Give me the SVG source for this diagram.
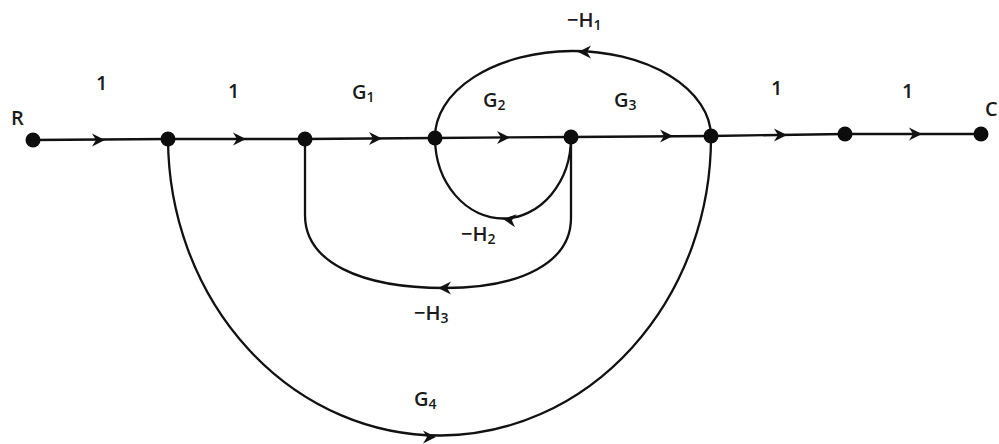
<svg xmlns="http://www.w3.org/2000/svg" xmlns:xlink="http://www.w3.org/1999/xlink" width="999" height="444" viewBox="0 0 999 444">
<style>
.e{fill:none;stroke:#111;stroke-width:2.3;stroke-linecap:round}
.n{fill:#0d0d0d}
.t{font-family:"Open Sans","DejaVu Sans",sans-serif;font-weight:600;font-size:20px;fill:#1a1a1a}
.s{font-size:14px}
</style>
<defs>
<path id="ah" d="M0,0 L-13,-6.5 L-9,0 L-13,6.5 Z" fill="#111"/>
</defs>
<rect width="999" height="444" fill="#fff"/>
<g id="connectors">
<line class="e" x1="33" y1="140" x2="168" y2="139"/>
<line class="e" x1="168" y1="139" x2="305" y2="139"/>
<line class="e" x1="305" y1="139" x2="435" y2="138"/>
<line class="e" x1="435" y1="138" x2="571" y2="137"/>
<line class="e" x1="571" y1="137" x2="711" y2="136"/>
<line class="e" x1="711" y1="136" x2="845" y2="134"/>
<line class="e" x1="845" y1="134" x2="981" y2="134"/>
<path class="e" d="M711,136 A138,86 0 0 0 435,138"/>
<path class="e" d="M571,137 A68,81 0 0 1 435,138"/>
<path class="e" d="M571,137 L571,218 C571,262 522,288 445,288 C360,288 305,262 305,215 L305,139"/>
<path class="e" d="M168,139 A271.5,298 0 0 0 711,136"/>
<use xlink:href="#ah" transform="translate(105,140)"/>
<use xlink:href="#ah" transform="translate(246,139)"/>
<use xlink:href="#ah" transform="translate(382,138.5)"/>
<use xlink:href="#ah" transform="translate(510,137.5)"/>
<use xlink:href="#ah" transform="translate(673,136)"/>
<use xlink:href="#ah" transform="translate(787,135)"/>
<use xlink:href="#ah" transform="translate(922,134)"/>
<use xlink:href="#ah" transform="translate(578,52) rotate(180)"/>
<use xlink:href="#ah" transform="translate(503,219) rotate(188)"/>
<use xlink:href="#ah" transform="translate(438,288) rotate(180)"/>
<use xlink:href="#ah" transform="translate(436,437)"/>
</g>
<g id="node-R"><circle class="n" cx="33" cy="140" r="7.5"/><text class="t" x="11" y="125">R</text></g>
<g id="node-1"><circle class="n" cx="168" cy="139" r="7.5"/></g>
<g id="node-2"><circle class="n" cx="305" cy="139" r="7.5"/></g>
<g id="node-3"><circle class="n" cx="435" cy="138" r="7.5"/></g>
<g id="node-4"><circle class="n" cx="571" cy="137" r="7.5"/></g>
<g id="node-5"><circle class="n" cx="711" cy="136" r="7.5"/></g>
<g id="node-6"><circle class="n" cx="845" cy="134" r="7.5"/></g>
<g id="node-C"><circle class="n" cx="981" cy="134" r="7.5"/><text class="t" x="985" y="116">C</text></g>
<g id="labels">
<text class="t" x="96" y="90">1</text>
<text class="t" x="228" y="98">1</text>
<text class="t" x="352" y="99">G<tspan class="s" dy="3">1</tspan></text>
<text class="t" x="483" y="107">G<tspan class="s" dy="3">2</tspan></text>
<text class="t" x="614" y="107">G<tspan class="s" dy="3">3</tspan></text>
<text class="t" x="567" y="27">−H<tspan class="s" dy="3">1</tspan></text>
<text class="t" x="771" y="95">1</text>
<text class="t" x="902" y="98">1</text>
<text class="t" x="461" y="241">−H<tspan class="s" dy="3">2</tspan></text>
<text class="t" x="414" y="320">−H<tspan class="s" dy="3">3</tspan></text>
<text class="t" x="414" y="406">G<tspan class="s" dy="3">4</tspan></text>
</g>
</svg>
